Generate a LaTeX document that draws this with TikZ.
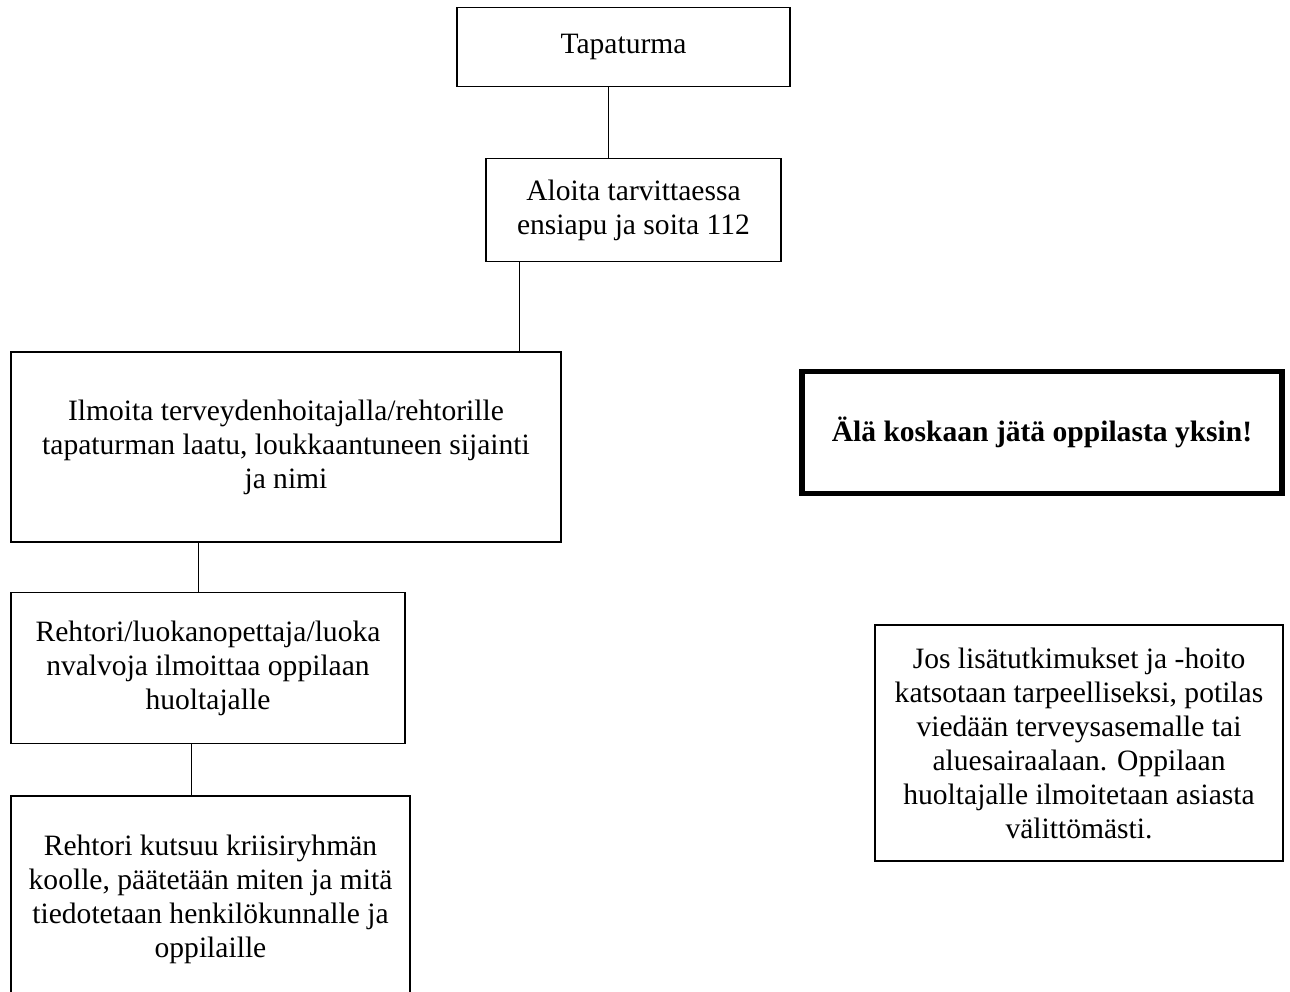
\documentclass[tikz,border=0pt]{standalone}
\usepackage{fontspec}
\setmainfont{Liberation Serif}
\tikzset{
  box/.style={draw, line width=0.8pt, inner sep=0pt, align=center,
    font=\fontsize{12}{13.8}\selectfont},
  boxsize/.style 2 args={minimum width=#1*0.406pt, minimum height=#2*0.406pt}
}

\begin{document}
\begin{tikzpicture}[x=0.406pt, y=-0.406pt]
  \useasboundingbox (0,0) rectangle (1290,992);

  \node[box, boxsize={333}{79}] (tap) at (623.5,47) {Tapaturma};
  \node[box, boxsize={295}{103}] (ens) at (633.5,210) {Aloita tarvittaessa\\ensiapu ja soita 112};
  \node[box, boxsize={550}{190}] (ilm) at (286,447) {Ilmoita terveydenhoitajalla/rehtorille\\tapaturman laatu, loukkaantuneen sijainti\\ja nimi};
  \node[box, boxsize={394}{151}] (reh) at (208,668) {Rehtori/luokanopettaja/luoka\\nvalvoja ilmoittaa oppilaan\\huoltajalle};
  \node[box, boxsize={399}{206}] (kri) at (210.5,899) {Rehtori kutsuu kriisiryhmän\\koolle, päätetään miten ja mitä\\tiedotetaan henkilökunnalle ja\\oppilaille};
  \node[box, line width=2.4pt, boxsize={480}{122}] (ala) at (1042,432.5) {\textbf{Älä koskaan jätä oppilasta yksin!}};
  \node[box, boxsize={408}{236}] (jos) at (1079,743) {Jos lisätutkimukset ja -hoito\\katsotaan tarpeelliseksi, potilas\\viedään terveysasemalle tai\\aluesairaalaan. Oppilaan\\huoltajalle ilmoitetaan asiasta\\välittömästi.};

  \draw[line width=0.4pt] (tap.south -| 608,0) -- (ens.north -| 608,0);
  \draw[line width=0.4pt] (ens.south -| 519,0) -- (ilm.north -| 519,0);
  \draw[line width=0.4pt] (ilm.south -| 198,0) -- (reh.north -| 198,0);
  \draw[line width=0.4pt] (reh.south -| 191,0) -- (kri.north -| 191,0);
\end{tikzpicture}
\end{document}
